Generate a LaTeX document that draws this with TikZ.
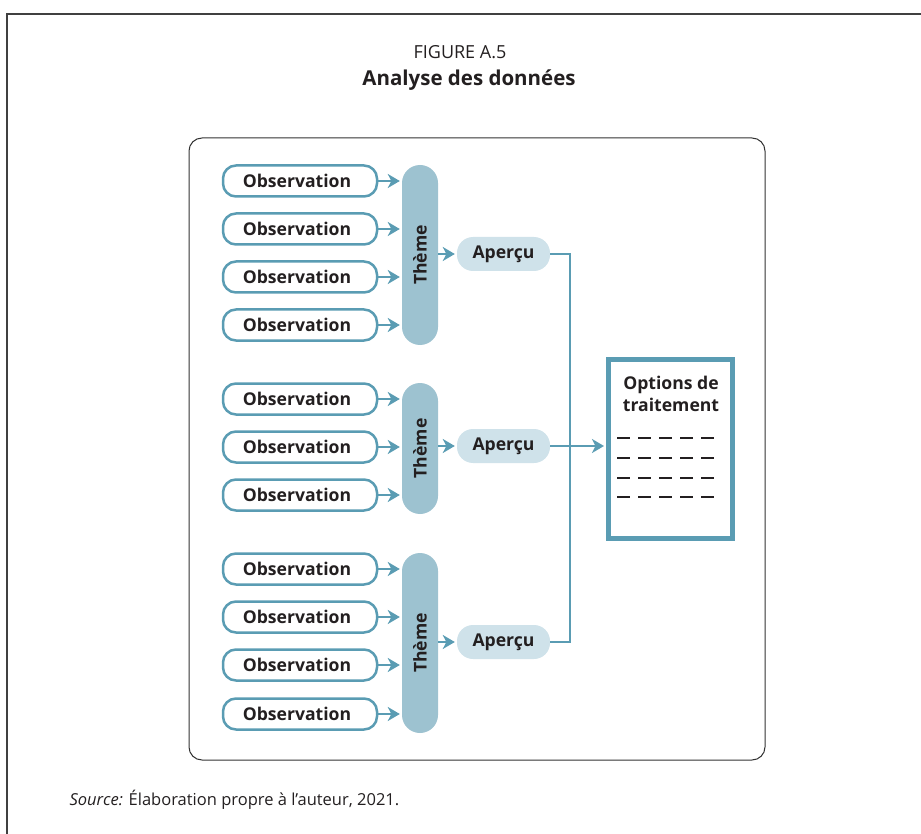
\documentclass[tikz,border=0pt]{standalone}
\usepackage{fontspec}
\setmainfont{Open Sans}
\usetikzlibrary{arrows.meta}
\definecolor{mteal}{HTML}{5A9CB3}
\definecolor{mbar}{HTML}{9DC2D0}
\definecolor{mlight}{HTML}{CFE2EA}
\definecolor{mtext}{HTML}{231F20}
\tikzset{
  lbl/.style={font=\fontsize{17.6}{20}\selectfont\bfseries, text=mtext},
  obs/.style={lbl, draw=mteal, line width=2.5pt, rounded corners=13pt, fill=white,
    minimum width=154pt, minimum height=31pt, inner sep=0pt},
  bar/.style={fill=mbar, rounded corners=18pt, minimum width=36pt, inner sep=0pt},
  bartext/.style={lbl, rotate=90},
  apc/.style={lbl, fill=mlight, rounded corners=16pt, minimum width=93pt, minimum height=34pt,
    inner sep=0pt},
  arr/.style={draw=mteal, line width=2pt, shorten >=2pt, -{Stealth[length=12pt,width=14pt,inset=3.5pt]}},
  conn/.style={draw=mteal, line width=2pt},
}
\begin{document}
\begin{tikzpicture}[x=1pt,y=-1pt]
\useasboundingbox (0,0) rectangle (921,834);
\draw[black!75, line width=1.3pt] (7,834) -- (7,14) -- (921,14);
\node[font=\fontsize{18}{22}\selectfont, text=mtext] (fig) at (460,52) {FIGURE A.5};
\node[font=\fontsize{20.5}{24}\selectfont\bfseries, text=mtext] (tit) at (469,80) {Analyse des données};
\draw[black!80, line width=1pt, rounded corners=13pt] (189,138) rectangle (765,760);

\foreach \n/\y in {11/181,12/229,13/277,14/325,21/399,22/447,23/495,31/569,32/617,33/665,34/714}
  \node[obs] (o\n) at (300,\y) {\hspace*{-6pt}Observation};

\node[bar, minimum height=180pt] (t1) at (420,255) {};
\node[bar, minimum height=131pt] (t2) at (420,448.5) {};
\node[bar, minimum height=180pt] (t3) at (420,643) {};
\foreach \i in {1,2,3} \node[bartext] (tl\i) at (t\i) {Thème};

\foreach \n/\t in {11/1,12/1,13/1,14/1,21/2,22/2,23/2,31/3,32/3,33/3,34/3}
  \draw[arr] (o\n.east) -- (o\n.east -| t\t.west);

\node[apc] (a1) at (503.5,254) {Aperçu};
\node[apc] (a2) at (503.5,446) {Aperçu};
\node[apc] (a3) at (503.5,642) {Aperçu};
\foreach \i in {1,2,3} \draw[arr] (t\i.east |- a\i.west) -- (a\i.west);

\node[draw=mteal, line width=5pt, minimum width=124pt, minimum height=179pt, inner sep=0pt] (opt) at (670.5,449) {};
\node[lbl, font=\fontsize{17.6}{22}\selectfont\bfseries, align=center] (optt) at (671,394) {Options de\\traitement};

\coordinate (j1) at (570,254);
\draw[conn] (a1.east) -- (j1) |- (a3.east);
\draw[arr] (a2.east) -- (opt.west |- a2.east);

\foreach \y in {438,458,478,497}
  \draw[mtext, line width=2.2pt, dash pattern=on 13pt off 8pt] (617,\y) -- (716,\y);

\node[anchor=west, font=\fontsize{16.5}{19}\selectfont, text=mtext] (src) at (66,800) {\textit{Source:} Élaboration propre à l’auteur, 2021.};
\end{tikzpicture}
\end{document}
